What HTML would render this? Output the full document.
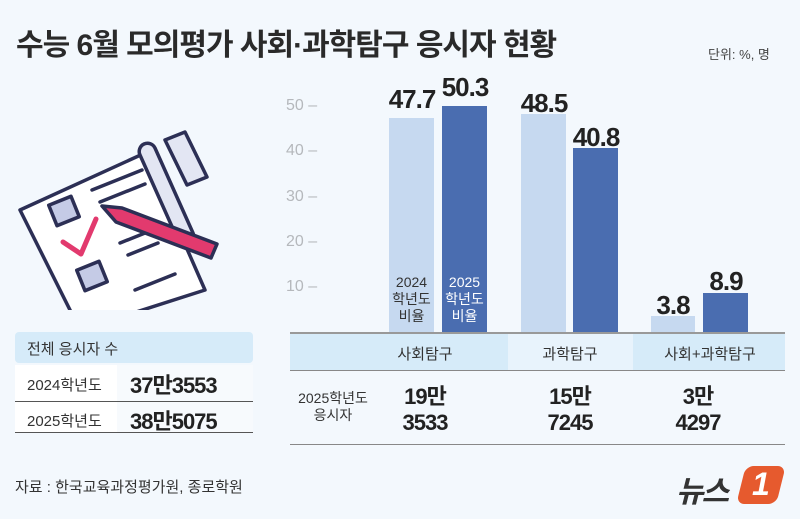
<!DOCTYPE html><html><head><meta charset="utf-8"><style>
body{margin:0;width:800px;height:519px;background:#f3f8fd;font-family:"Liberation Sans","Noto Sans CJK KR",sans-serif;position:relative;overflow:hidden;color:#222}
.a{position:absolute}
.bar{position:absolute;bottom:186px}
.l{background:#c6d9f0}.d{background:#4a6db0}
.v{position:absolute;font-size:26px;font-weight:bold;color:#222;text-align:center;width:60px;letter-spacing:-1px}
.t{position:absolute;font-size:16px;color:#b5b8bc;left:286px}
.c{text-align:center}
</style></head><body>
<div class="a" style="left:16px;top:20px;font-size:30px;font-weight:bold;color:#2a2a2a;letter-spacing:-1px">수능 6월 모의평가 사회·과학탐구 응시자 현황</div>
<div class="a" style="left:708px;top:44px;font-size:13px;color:#444">단위: %, 명</div>
<svg class="a" style="left:10px;top:110px" width="220" height="200" viewBox="10 110 220 200">
<g stroke="#2c2f55" stroke-width="3.5" stroke-linejoin="round" stroke-linecap="round">
<path d="M165 140 l20 -8 l22 45 l-20 8z" fill="#e3e6f3"/>
<path d="M20 210 L145 153 L205 290 L80 330 Z" fill="#fff"/>
<path d="M140 155 a8 8 0 0 1 15 -7 l38 85 a8 8 0 0 1 -15 7z" fill="#e3e6f3"/>
<rect x="52" y="200" width="24" height="22" fill="#c5cbe6" transform="rotate(-22 64 211)"/>
<rect x="80" y="265" width="24" height="22" fill="#c5cbe6" transform="rotate(-22 92 276)"/>
<path d="M92 190 l50 -20 M100 202 l45 -18 M120 243 l40 -16 M128 255 l30 -12 M135 290 l40 -16" fill="none"/>
<path d="M63 242 l18 12 l15 -35" stroke="#e23a6e" stroke-width="5" fill="none"/>
<path d="M102 206 l20 2 l95 36 l-6 14 l-95 -36 z" fill="#e23a6e"/>
</g></svg>
<div class="t" style="top:97px">50 –</div><div class="t" style="top:142px">40 –</div><div class="t" style="top:188px">30 –</div><div class="t" style="top:233px">20 –</div><div class="t" style="top:278px">10 –</div>
<div class="bar l" style="left:389px;width:45px;height:215px"></div>
<div class="bar d" style="left:442px;width:45px;height:227px"></div>
<div class="bar l" style="left:521px;width:45px;height:219px"></div>
<div class="bar d" style="left:573px;width:45px;height:185px"></div>
<div class="bar l" style="left:651px;width:44px;height:17px"></div>
<div class="bar d" style="left:703px;width:45px;height:40px"></div>
<div class="v" style="left:382px;top:84px">47.7</div><div class="v" style="left:435px;top:72px">50.3</div>
<div class="v" style="left:514px;top:88px">48.5</div><div class="v" style="left:566px;top:122px">40.8</div>
<div class="v" style="left:643px;top:290px">3.8</div><div class="v" style="left:696px;top:266px">8.9</div>
<div class="a c" style="left:389px;width:45px;top:274px;font-size:14px;line-height:17px;color:#333">2024<br>학년도<br>비율</div>
<div class="a c" style="left:442px;width:45px;top:274px;font-size:14px;line-height:17px;color:#fff">2025<br>학년도<br>비율</div>
<div class="a" style="left:290px;top:333px;width:495px;height:38px;background:#e8f3fc"></div>
<div class="a" style="left:290px;top:333px;width:218px;height:38px;background:#d6ebf9"></div>
<div class="a" style="left:633px;top:333px;width:152px;height:38px;background:#d6ebf9"></div>
<div class="a" style="left:290px;top:332px;width:495px;height:2px;background:#999"></div>
<div class="a" style="left:290px;top:370px;width:495px;height:1px;background:#888"></div>
<div class="a" style="left:290px;top:444px;width:495px;height:1px;background:#888"></div>
<div class="a c" style="left:370px;width:110px;top:343px;font-size:15px;color:#333">사회탐구</div>
<div class="a c" style="left:515px;width:110px;top:343px;font-size:15px;color:#333">과학탐구</div>
<div class="a c" style="left:640px;width:140px;top:343px;font-size:15px;color:#333">사회+과학탐구</div>
<div class="a c" style="left:292px;width:82px;top:390px;font-size:14px;line-height:17px;color:#333">2025학년도<br>응시자</div>
<div class="a c" style="left:385px;width:80px;top:384px;font-size:22px;line-height:26px;font-weight:bold;letter-spacing:-1px">19만<br>3533</div>
<div class="a c" style="left:530px;width:80px;top:384px;font-size:22px;line-height:26px;font-weight:bold;letter-spacing:-1px">15만<br>7245</div>
<div class="a c" style="left:658px;width:80px;top:384px;font-size:22px;line-height:26px;font-weight:bold;letter-spacing:-1px">3만<br>4297</div>
<div class="a" style="left:15px;top:332px;width:238px;height:31px;background:#d6ebf9;border-radius:4px"></div>
<div class="a" style="left:27px;top:338px;font-size:15px;color:#333">전체 응시자 수</div>
<div class="a" style="left:15px;top:365px;width:238px;height:67px;background:#fff"></div>
<div class="a" style="left:117px;top:365px;width:136px;height:67px;background:#f7fafd"></div>
<div class="a" style="left:15px;top:401px;width:238px;height:1px;background:#555"></div>
<div class="a" style="left:15px;top:432px;width:238px;height:1px;background:#555"></div>
<div class="a" style="left:27px;top:374px;font-size:15px;color:#333">2024학년도</div>
<div class="a" style="left:27px;top:410px;font-size:15px;color:#333">2025학년도</div>
<div class="a" style="left:130px;top:368px;font-size:22px;font-weight:bold;letter-spacing:-1px">37만3553</div>
<div class="a" style="left:130px;top:404px;font-size:22px;font-weight:bold;letter-spacing:-1px">38만5075</div>
<div class="a" style="left:15px;top:476px;font-size:15px;color:#333">자료 : 한국교육과정평가원, 종로학원</div>
<div class="a" style="left:676px;top:467px;font-size:30px;font-weight:bold;font-style:italic;color:#333;letter-spacing:-2px">뉴스</div>
<div class="a" style="left:741px;top:466px;width:40px;height:38px;background:#e65a2e;border-radius:8px;transform:skewX(-14deg)"></div>
<div class="a" style="left:752px;top:466px;font-size:32px;font-weight:bold;font-style:italic;color:#fff">1</div>
</body></html>
